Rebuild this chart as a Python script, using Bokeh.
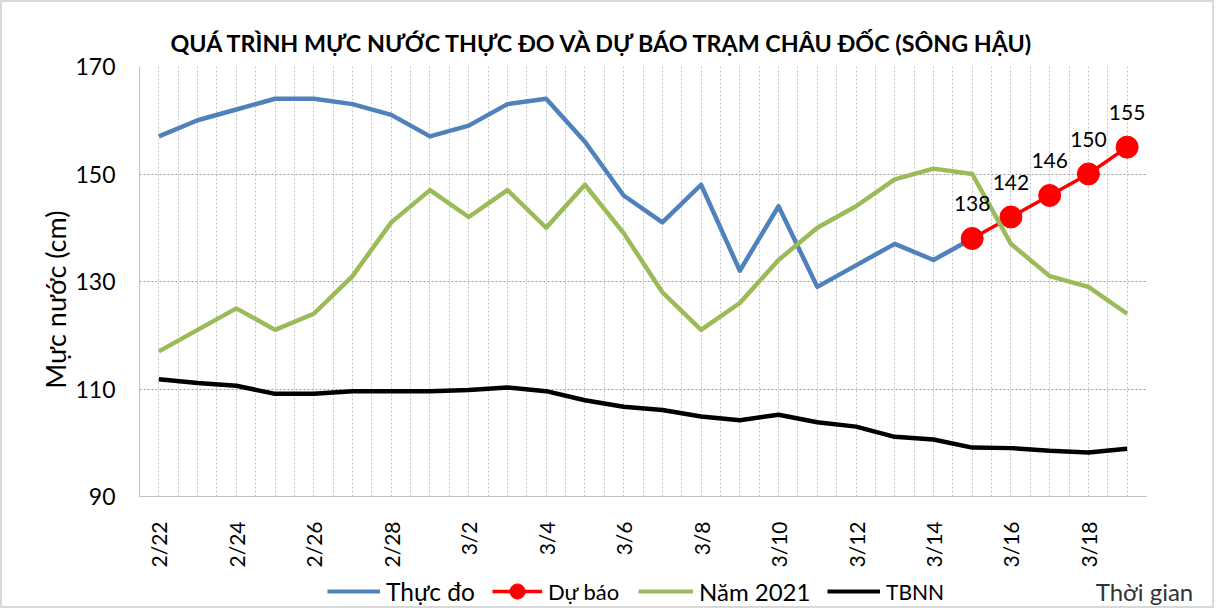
import math
from bokeh.plotting import figure
from bokeh.layouts import column, row
from bokeh.core.properties import value
from bokeh.models import (ColumnDataSource, FixedTicker, Label, LabelSet,
                          Legend, LegendItem, Range1d)
from bokeh.embed import file_html
from bokeh.resources import INLINE

# ---------------- data ----------------
dates = ["2/22", "2/23", "2/24", "2/25", "2/26", "2/27", "2/28", "3/1", "3/2",
         "3/3", "3/4", "3/5", "3/6", "3/7", "3/8", "3/9", "3/10", "3/11",
         "3/12", "3/13", "3/14", "3/15", "3/16", "3/17", "3/18", "3/19"]
thuc_do = [157, 160, 162, 164, 164, 163, 161, 157, 159, 163, 164, 156, 146,
           141, 148, 132, 144, 129, 133, 137, 134, 138]
du_bao_dates = ["3/15", "3/16", "3/17", "3/18", "3/19"]
du_bao = [138, 142, 146, 150, 155]
nam_2021 = [117, 121, 125, 121, 124, 131, 141, 147, 142, 147, 140, 148, 139,
            128, 121, 126, 134, 140, 144, 149, 151, 150, 137, 131, 129, 124]
tbnn = [111.8, 111.1, 110.6, 109.1, 109.1, 109.6, 109.6, 109.6, 109.8, 110.3,
        109.6, 107.9, 106.7, 106.1, 104.9, 104.2, 105.2, 103.8, 103.0, 101.1,
        100.6, 99.1, 99.0, 98.5, 98.2, 98.9]
y_ticks = [90, 110, 130, 150, 170]

title_text = "QUÁ TRÌNH MỰC NƯỚC THỰC ĐO VÀ DỰ BÁO TRẠM CHÂU ĐỐC (SÔNG HẬU)"
y_title = "Mực nước (cm)"
x_title = "Thời gian"
series_names = ["Thực đo", "Dự báo", "Năm 2021", "TBNN"]

FONT = "Lato"
BLUE, RED, GREEN, BLACK = "#4f81bd", "#ff0000", "#9bbb59", "black"

OFF = 2            # css border width around the whole chart
W = 1210
MAIN_H, LEG_H = 568, 36
YT_W = 70


def blank(width, height):
    f = figure(width=width, height=height, output_backend="svg",
               toolbar_location=None, x_axis_type=None, y_axis_type=None,
               x_range=Range1d(0, width), y_range=Range1d(0, height),
               min_border=0)
    f.outline_line_color = None
    f.grid.visible = False
    f.background_fill_color = "white"
    f.border_fill_color = "white"
    return f


x_all = list(range(len(dates)))
x_obs = [dates.index(d) for d in dates[:len(thuc_do)]]
x_fc = [dates.index(d) for d in du_bao_dates]

# ---------------- main chart ----------------
p = figure(width=W - YT_W, height=MAIN_H, output_backend="svg", toolbar_location=None,
           x_range=Range1d(-0.5, len(dates) - 0.5), y_range=Range1d(90, 170),
           min_border_left=137 - OFF - YT_W, min_border_right=W - (1146 - OFF),
           min_border_top=66 - OFF, min_border_bottom=MAIN_H - (496 - OFF))
p.outline_line_color = None
p.background_fill_color = "white"
p.border_fill_color = "white"

p.title.text = title_text
p.title.align = "left"
p.title.offset = 31
p.title.text_font = FONT
p.title.text_font_size = "23.3px"
p.title.text_font_style = "bold"
p.title.text_color = "black"
p.title.standoff = 19

xa = p.xaxis[0]
xa.ticker = FixedTicker(ticks=list(range(0, len(dates), 2)))
xa.major_label_overrides = {i: dates[i] for i in range(0, len(dates), 2)}
xa.major_label_orientation = math.pi / 2
xa.major_label_text_font = FONT
xa.major_label_text_font_size = "21px"
xa.major_label_text_color = "black"
xa.major_label_standoff = 25
xa.axis_line_color = "#bfbfbf"
xa.major_tick_out = 0
xa.major_tick_in = 0
xa.minor_tick_out = 0
xa.minor_tick_in = 0

ya = p.yaxis[0]
ya.ticker = FixedTicker(ticks=y_ticks)
ya.major_label_text_font = FONT
ya.major_label_text_font_size = "23px"
ya.major_label_text_color = "black"
ya.major_label_standoff = 24
ya.axis_line_color = "#bfbfbf"
ya.major_tick_out = 0
ya.major_tick_in = 0
ya.minor_tick_out = 0
ya.minor_tick_in = 0

p.xgrid.ticker = FixedTicker(ticks=[-0.5 + 0.5 * i for i in range(2 * len(dates) + 1)])
p.xgrid.grid_line_color = "#c4c4c4"
p.xgrid.grid_line_dash = "2 2"
p.ygrid.ticker = FixedTicker(ticks=y_ticks[1:])
p.ygrid.grid_line_color = "#9a9a9a"
p.ygrid.grid_line_dash = "2 2"

p.line(x_obs, thuc_do, line_color=BLUE, line_width=4.5, line_join="round")
p.line(x_fc, du_bao, line_color=RED, line_width=3.5, line_join="round")
p.scatter(x_fc, du_bao, size=22, fill_color=RED, line_color=RED)
p.line(x_all, nam_2021, line_color=GREEN, line_width=4.5, line_join="round")
p.line(x_all, tbnn, line_color=BLACK, line_width=4.5, line_join="round")

lab_src = ColumnDataSource(dict(x=x_fc, y=du_bao, t=[str(v) for v in du_bao]))
p.add_layout(LabelSet(x="x", y="y", text="t", source=lab_src, y_offset=35,
                      text_align="center", text_baseline="middle",
                      text_font=value(FONT), text_font_size=value("21px"),
                      text_color="black"))

# ---------------- y title strip ----------------
yf = blank(YT_W, MAIN_H)
yf.add_layout(Label(x=55 - OFF, y=MAIN_H - (310 - OFF), text=y_title, angle=math.pi / 2,
                    text_align="center", text_baseline="middle", text_font=FONT,
                    text_font_size="27px", text_color="black"))

# ---------------- legend strip ----------------
# legend renderers use the real series; they lie outside this strip's ranges,
# so only their legend glyphs are visible
lf = blank(W, LEG_H)
lr_blue = lf.line(x_obs, thuc_do, line_color=BLUE, line_width=4)
lr_red = lf.line(x_fc, du_bao, line_color=RED, line_width=3.5)
lr_red_pts = lf.scatter(x_fc, du_bao, fill_color=RED, line_color=RED)
lr_green = lf.line(x_all, nam_2021, line_color=GREEN, line_width=4)
lr_black = lf.line(x_all, tbnn, line_color=BLACK, line_width=4)

LEG_CY = LEG_H - (591 - OFF - MAIN_H)
GH = 38


def add_leg(label, renderers, page_x, glyph_w, font_size):
    leg = Legend(items=[LegendItem(label=label, renderers=renderers)],
                 location=(page_x - OFF, LEG_CY - GH / 2), glyph_width=glyph_w,
                 glyph_height=GH, label_height=GH, padding=0, margin=0,
                 spacing=0, label_standoff=6, background_fill_alpha=0,
                 border_line_alpha=0, label_text_font=FONT,
                 label_text_font_size=font_size, label_text_color="black")
    lf.add_layout(leg)


add_leg(series_names[0], [lr_blue], 327, 53, "24.5px")
add_leg(series_names[1], [lr_red, lr_red_pts], 492, 50, "22px")
add_leg(series_names[2], [lr_green], 638, 55, "24px")
add_leg(series_names[3], [lr_black], 827, 53, "21px")
lf.add_layout(Label(x=1144 - OFF, y=LEG_CY, text=x_title, text_align="center",
                    text_baseline="middle", text_font=FONT, text_font_size="24px",
                    text_color="#333333"))

layout = column(row(yf, p), lf)
layout.styles = {"border": f"{OFF}px solid #d9d9d9"}

open("out.html", "w").write(file_html(layout, INLINE))
